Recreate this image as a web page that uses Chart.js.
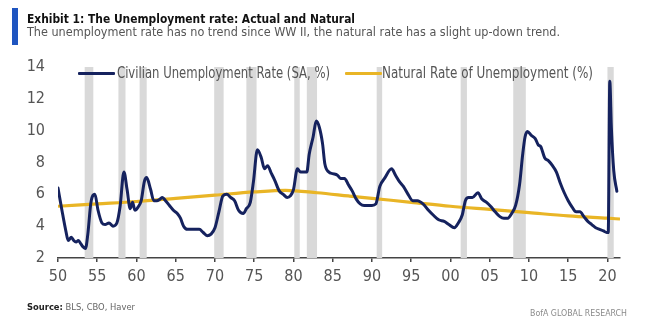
<!DOCTYPE html>
<html>
<head>
<meta charset="utf-8">
<script src="https://cdn.jsdelivr.net/npm/chart.js@4.4.1/dist/chart.umd.min.js"></script>
<style>
  html, body { margin: 0; padding: 0; background: #fff; }
  #wrap { position: relative; width: 650px; height: 333px; overflow: hidden; background: #fff; }
  #cv { position: absolute; left: 0; top: 0; }
  .t { position: absolute; white-space: nowrap; display: inline-block; transform-origin: left top;
       font-family: 'Liberation Sans Narrow', 'DejaVu Sans Condensed', Roboto, sans-serif; }
  #bar { position: absolute; left: 12px; top: 8px; width: 6px; height: 37px; background: #1f55c0; }
  .sw { position: absolute; height: 3px; border-radius: 1px; }
</style>
</head>
<body>
<div id="wrap">
  <canvas id="cv" width="650" height="333"></canvas>
  <div id="bar"></div>
  <div class="t" id="title" data-w="328" style="left:27px; top:12px; font-size:13px; line-height:13px; font-weight:bold; color:#111;">Exhibit 1: The Unemployment rate: Actual and Natural</div>
  <div class="t" id="sub" data-w="533" style="left:27px; top:25px; font-size:13px; line-height:13px; color:#555;">The unemployment rate has no trend since WW II, the natural rate has a slight up-down trend.</div>
  <div class="sw" style="left:78px; top:71.5px; width:37px; background:#15225e;"></div>
  <div class="t" id="lg1" data-w="213" style="left:117px; top:65px; font-size:16px; line-height:16px; color:#555;">Civilian Unemployment Rate (SA, %)</div>
  <div class="sw" style="left:345px; top:71.5px; width:37px; background:#e9b526;"></div>
  <div class="t" id="lg2" data-w="211" style="left:382px; top:65px; font-size:16px; line-height:16px; color:#555;">Natural Rate of Unemployment (%)</div>
  <div class="t" id="src" data-w="108" style="left:27px; top:302.5px; font-size:9px; line-height:9px; color:#666;"><b style="color:#222;">Source:</b> BLS, CBO, Haver</div>
  <div class="t" id="bofa" data-w="97" style="left:530px; top:309px; font-size:8.5px; line-height:8.5px; color:#8a8a8a;">BofA GLOBAL RESEARCH</div>
</div>
<script>
// ---------------- DATA ----------------
const unempYears = [1950.0,1950.5,1951.0,1951.3,1951.7,1952.0,1952.3,1952.6,1952.9,1953.2,1953.5,1953.8,1954.2,1954.7,1955.1,1955.6,1956.0,1956.5,1957.0,1957.5,1957.9,1958.4,1958.8,1959.2,1959.5,1959.8,1960.2,1960.6,1961.0,1961.3,1961.8,1962.2,1962.6,1963.0,1963.3,1963.7,1964.2,1964.7,1965.2,1965.6,1966.0,1966.5,1967.0,1967.6,1968.0,1968.5,1969.0,1969.5,1970.0,1970.5,1971.0,1971.5,1972.0,1972.5,1973.0,1973.6,1974.0,1974.5,1974.9,1975.4,1975.9,1976.3,1976.7,1977.2,1977.6,1978.2,1978.7,1979.2,1979.6,1980.0,1980.5,1980.9,1981.4,1981.7,1982.0,1982.5,1982.9,1983.3,1983.7,1984.0,1984.5,1985.0,1985.6,1986.0,1986.5,1987.0,1987.5,1988.0,1988.5,1989.0,1989.5,1990.0,1990.5,1991.0,1991.6,1992.5,1993.0,1993.5,1994.0,1994.6,1995.2,1995.8,1996.5,1997.2,1997.8,1998.5,1999.2,1999.8,2000.5,2001.0,2001.5,2001.9,2002.3,2002.8,2003.5,2004.0,2004.6,2005.2,2005.7,2006.3,2006.8,2007.3,2007.8,2008.3,2008.8,2009.2,2009.5,2009.8,2010.3,2010.8,2011.2,2011.5,2012.0,2012.5,2013.0,2013.5,2014.0,2014.5,2015.0,2015.5,2016.0,2016.5,2017.0,2017.5,2018.0,2018.5,2019.0,2019.5,2019.9,2020.1,2020.3,2020.5,2020.8,2021.2];
const unempRate = [6.4,5.0,3.7,3.1,3.3,3.1,3.0,3.1,2.9,2.7,2.6,3.5,5.5,6.0,5.0,4.2,4.1,4.2,4.0,4.2,5.2,7.4,6.3,5.1,5.5,5.0,5.2,5.6,6.8,7.05,6.3,5.6,5.6,5.7,5.8,5.6,5.3,5.0,4.8,4.5,4.0,3.8,3.8,3.8,3.8,3.6,3.4,3.5,3.9,4.9,5.9,6.0,5.8,5.6,5.0,4.8,5.1,5.5,6.8,8.8,8.3,7.6,7.8,7.3,6.9,6.2,6.0,5.8,5.9,6.3,7.6,7.4,7.4,7.4,8.5,9.6,10.6,10.2,9.2,7.9,7.4,7.3,7.2,7.0,7.0,6.6,6.2,5.7,5.4,5.3,5.3,5.3,5.4,6.5,7.0,7.6,7.2,6.8,6.5,6.0,5.6,5.6,5.4,5.0,4.7,4.4,4.3,4.1,3.9,4.2,4.7,5.6,5.8,5.8,6.1,5.7,5.5,5.2,4.9,4.6,4.5,4.5,4.8,5.3,6.6,8.5,9.6,9.95,9.7,9.5,9.1,9.0,8.3,8.1,7.8,7.4,6.7,6.1,5.6,5.2,4.9,4.9,4.6,4.3,4.1,3.9,3.8,3.7,3.6,3.6,13.1,10.2,7.5,6.2];
const naturalYears = [1950,1955,1960,1965,1970,1975,1979,1983,1987,1990,1995,2000,2005,2010,2015,2020,2021.6];
const naturalRate  = [5.25,5.4,5.55,5.75,5.95,6.15,6.25,6.1,5.9,5.75,5.5,5.25,5.05,4.85,4.65,4.5,4.45];
const recessionStarts = [1953.4,1957.7,1960.4,1969.9,1974.0,1980.1,1981.7,1990.6,2001.3,2008.0,2020.0];
const recessionEnds   = [1954.5,1958.6,1961.3,1971.1,1975.3,1980.8,1983.0,1991.3,2002.1,2009.6,2020.8];
const xTickValues = [1950,1955,1960,1965,1970,1975,1980,1985,1990,1995,2000,2005,2010,2015,2020];
const yTickValues = [2,4,6,8,10,12,14];
// --------------------------------------

const FONT = "'Liberation Sans Narrow', 'DejaVu Sans Condensed', Roboto, sans-serif";

const bands = {
  id: 'bands',
  beforeDatasetsDraw(chart) {
    const {ctx, scales: {x, y}} = chart;
    const top = y.getPixelForValue(yTickValues[yTickValues.length - 1]);
    const bot = y.getPixelForValue(yTickValues[0]);
    ctx.save();
    ctx.fillStyle = '#d9d9d9';
    recessionStarts.forEach((s, i) => {
      const a = x.getPixelForValue(s), b = x.getPixelForValue(recessionEnds[i]);
      ctx.fillRect(a, top, b - a, bot - top);
    });
    ctx.restore();
  }
};

new Chart(document.getElementById('cv'), {
  type: 'line',
  data: {
    datasets: [
      { label: 'Civilian Unemployment Rate (SA, %)',
        data: unempYears.map((v, i) => ({x: v, y: unempRate[i]})),
        borderColor: '#15225e', borderWidth: 3, pointRadius: 0, cubicInterpolationMode: 'monotone',
        borderJoinStyle: 'round', borderCapStyle: 'round' },
      { label: 'Natural Rate of Unemployment (%)',
        data: naturalYears.map((v, i) => ({x: v, y: naturalRate[i]})),
        borderColor: '#e9b526', borderWidth: 3.2, pointRadius: 0, cubicInterpolationMode: 'monotone' }
    ]
  },
  options: {
    responsive: false,
    animation: false,
    events: [],
    layout: { padding: { left: 8, right: 30, top: 67, bottom: 45 } },
    plugins: { legend: { display: false }, title: { display: false }, tooltip: { enabled: false } },
    scales: {
      x: {
        type: 'linear', min: 1950, max: 2021.6,
        afterBuildTicks: (s) => { s.ticks = xTickValues.map(v => ({value: v})); },
        afterFit: (s) => { s.height = 30; },
        ticks: { font: { family: FONT, size: 16 }, color: '#555', padding: 5, maxRotation: 0, autoSkip: false,
                 callback: (v) => String(v % 100).padStart(2, '0') },
        grid: { display: true, drawOnChartArea: false, drawTicks: true, tickLength: 4, color: '#444', lineWidth: 1.5 },
        border: { display: true, color: '#444', width: 1.5 }
      },
      y: {
        min: 2, max: 14,
        afterBuildTicks: (s) => { s.ticks = yTickValues.map(v => ({value: v})); },
        afterFit: (s) => { s.width = 50; },
        ticks: { font: { family: FONT, size: 16 }, color: '#555', padding: 13 },
        grid: { display: false, drawTicks: false },
        border: { display: false }
      }
    }
  },
  plugins: [bands]
});

function fitAll() {
  document.querySelectorAll('.t[data-w]').forEach(el => {
    el.style.transform = 'none';
    const w = el.getBoundingClientRect().width;
    const target = parseFloat(el.dataset.w);
    if (w > 0) el.style.transform = 'scaleX(' + (target / w) + ')';
  });
}
fitAll();
if (document.fonts && document.fonts.ready) document.fonts.ready.then(fitAll);
</script>
</body>
</html>
